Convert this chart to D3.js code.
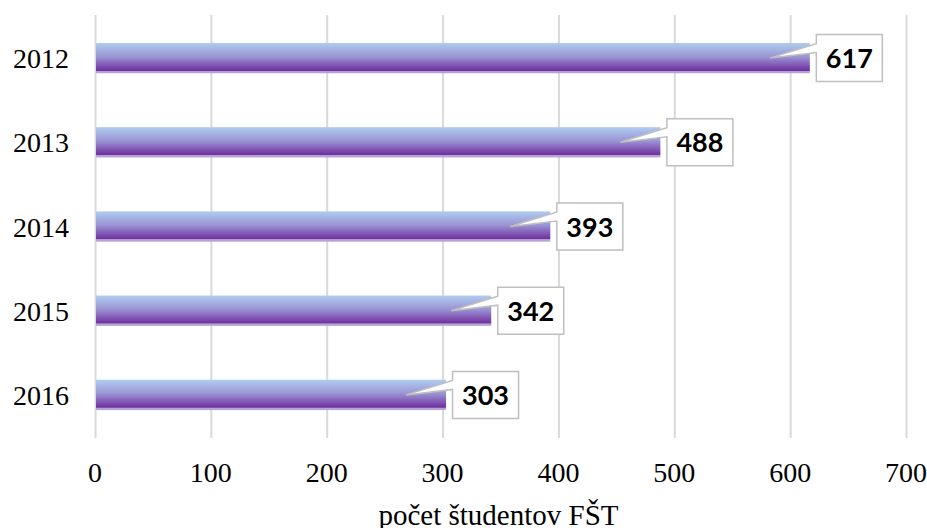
<!DOCTYPE html>
<html>
<head>
<meta charset="utf-8">
<script src="https://cdn.jsdelivr.net/npm/d3@7"></script>
<style>
  html, body { margin: 0; padding: 0; background: #fff; }
  svg { display: block; }
</style>
</head>
<body>
<svg id="chart" width="927" height="528"></svg>
<script>
// Number of FŠT students per academic year
const years = ["2012", "2013", "2014", "2015", "2016"];
const students = [617, 488, 393, 342, 303];
const xTicks = [0, 100, 200, 300, 400, 500, 600, 700];
const axisTitle = "počet študentov FŠT";

const W = 927, H = 528;
const plot = { left: 95, right: 906, top: 15, bottom: 438 };

const svg = d3.select("#chart");

const x = d3.scaleLinear().domain([0, 700]).range([plot.left, plot.right]);
const y = d3.scaleBand()
  .domain(years)
  .range([plot.top + 1, plot.bottom - 1])
  .paddingInner(0.64)
  .paddingOuter(0.32);

// bar fill: light blue at the top fading into purple, thin light edge at the bottom
const defs = svg.append("defs");
const grad = defs.append("linearGradient")
  .attr("id", "barFill")
  .attr("x1", 0).attr("y1", 0).attr("x2", 0).attr("y2", 1);
[
  [0, "#afcdf0"],
  [0.45, "#9b95d4"],
  [0.88, "#7336a3"],
  [0.91, "#7030a0"],
  [0.93, "#b6a3d6"],
  [1, "#b6a3d6"]
].forEach(([o, c]) => grad.append("stop").attr("offset", o).attr("stop-color", c));

// vertical gridlines (the 0 line doubles as the axis)
const xAxis = d3.axisBottom(x)
  .tickValues(xTicks)
  .tickSize(-(plot.bottom - plot.top))
  .tickFormat("");
const grid = svg.append("g")
  .attr("transform", `translate(0,${plot.bottom})`)
  .call(xAxis);
grid.select(".domain").remove();
grid.selectAll(".tick line").attr("stroke", "#d9d9d9").attr("stroke-width", 2);

// tick labels
svg.append("g").selectAll("text")
  .data(xTicks)
  .join("text")
  .attr("x", d => x(d))
  .attr("y", 482)
  .attr("text-anchor", "middle")
  .attr("font-family", "'Liberation Serif', 'Times New Roman', serif")
  .attr("font-size", 28)
  .attr("fill", "#000")
  .text(d => d);

// axis title
svg.append("text")
  .attr("x", (plot.left + plot.right) / 2 - 2)
  .attr("y", 525)
  .attr("text-anchor", "middle")
  .attr("font-family", "'Liberation Serif', 'Times New Roman', serif")
  .attr("font-size", 29)
  .attr("fill", "#000")
  .text(axisTitle);

// category labels
svg.append("g").selectAll("text")
  .data(years)
  .join("text")
  .attr("x", 69)
  .attr("y", d => y(d) + y.bandwidth() / 2 + 10)
  .attr("text-anchor", "end")
  .attr("font-family", "'Liberation Serif', 'Times New Roman', serif")
  .attr("font-size", 28)
  .attr("fill", "#000")
  .text(d => d);

const rows = years.map((yr, i) => ({ year: yr, value: students[i] }));

// bars
svg.append("g").selectAll("rect")
  .data(rows)
  .join("rect")
  .attr("x", x(0) + 1)
  .attr("y", d => y(d.year))
  .attr("width", d => x(d.value) - x(0) - 1)
  .attr("height", y.bandwidth())
  .attr("fill", "url(#barFill)");

// value callouts: boxed label with a pointer back onto the bar
const boxW = 66, boxH = 47;
const callouts = svg.append("g").selectAll("g")
  .data(rows)
  .join("g");

callouts.append("path")
  .attr("d", d => {
    const xe = x(d.value);
    const cy = y(d.year) + y.bandwidth() / 2;
    const bx = xe + 6.5, by = cy - boxH / 2;
    const tipX = xe - 40;
    return `M${bx},${by} H${bx + boxW} V${by + boxH} H${bx} V${by + 18}` +
           ` L${tipX},${cy} L${bx},${by + 9} Z`;
  })
  .attr("fill", "#fff")
  .attr("stroke", "#bfbfbf")
  .attr("stroke-width", 1.5)
  .attr("stroke-linejoin", "miter");

callouts.append("text")
  .attr("x", d => x(d.value) + 6.5 + boxW / 2)
  .attr("y", d => y(d.year) + y.bandwidth() / 2 + 10)
  .attr("text-anchor", "middle")
  .attr("font-family", "Lato, 'Open Sans', sans-serif")
  .attr("font-weight", "bold")
  .attr("font-size", 27)
  .attr("fill", "#000")
  .text(d => d.value);
</script>
</body>
</html>
